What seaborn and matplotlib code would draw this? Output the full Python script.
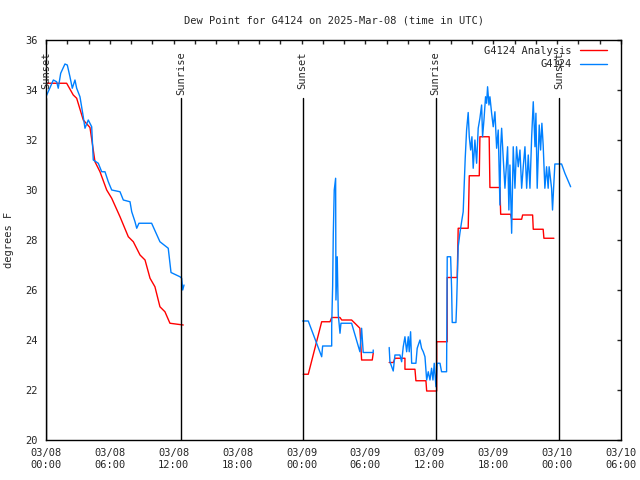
import pandas as pd
import seaborn as sns
import matplotlib.pyplot as plt
import matplotlib.dates as mdates
from matplotlib.lines import Line2D
import numpy as np

# hours since 2025-03-08 00:00 UTC, dew point in F
# analysis (red), one list per continuous segment
ana_h1 = [0.0, 1.94, 2.56, 2.88, 3.50, 4.13, 4.44, 4.60, 5.07, 5.70, 6.17, 6.95, 7.73, 8.20,
          8.83, 9.30, 9.77, 10.23, 10.70, 11.17, 11.64, 12.89]
ana_v1 = [34.27, 34.27, 33.8, 33.67, 32.8, 32.5, 31.6, 31.13, 30.73, 30.0, 29.67, 28.93, 28.13, 27.93,
          27.4, 27.2, 26.47, 26.13, 25.33, 25.13, 24.67, 24.6]
ana_h2 = [24.16, 24.63, 25.89, 26.67, 26.83, 27.61, 27.77, 28.70, 29.01, 29.48, 29.64, 30.64, 30.73]
ana_v2 = [22.63, 22.63, 24.73, 24.73, 24.9, 24.9, 24.8, 24.8, 24.67, 24.47, 23.2, 23.2, 23.47]
ana_h3 = [32.23, 32.62, 32.77, 33.71, 33.71, 34.65, 34.74, 35.68, 35.75, 36.69, 36.69, 37.68, 37.68,
          38.62, 38.71, 39.65, 39.75, 40.69, 40.75, 41.62, 41.69, 42.63, 42.70, 43.63, 43.73, 44.67,
          44.76, 45.70, 45.76, 46.69, 46.76, 47.70]
ana_v3 = [23.1, 23.1, 23.27, 23.27, 22.83, 22.83, 22.37, 22.37, 21.96, 21.96, 23.93, 23.93, 26.5,
          26.5, 28.47, 28.47, 30.57, 30.57, 32.13, 32.13, 30.1, 30.1, 29.03, 29.03, 28.83, 28.83,
          29.0, 29.0, 28.43, 28.43, 28.07, 28.07]

# station obs (blue)
obs_h1 = [0.0, 0.69, 1.0, 1.15, 1.38, 1.78, 2.0, 2.25, 2.47, 2.72, 2.88, 3.19, 3.50, 3.66, 3.97,
          4.29, 4.44, 4.91, 5.23, 5.54, 5.85, 6.17, 6.95, 7.26, 7.89, 8.05, 8.36, 8.52, 8.73, 9.92,
          10.70, 11.48, 11.74, 12.58, 12.74, 12.84, 12.96]
obs_v1 = [33.73, 34.4, 34.33, 34.07, 34.67, 35.04, 35.0, 34.53, 34.07, 34.4, 34.07, 33.73, 32.93,
          32.47, 32.8, 32.53, 31.2, 31.07, 30.73, 30.73, 30.33, 30.0, 29.93, 29.6, 29.53, 29.13,
          28.73, 28.47, 28.67, 28.67, 27.93, 27.67, 26.7, 26.53, 26.47, 26.0, 26.2]
obs_h2 = [24.10, 24.63, 25.89, 25.98, 26.83, 26.83, 26.92, 26.98, 27.07, 27.20, 27.23, 27.35, 27.45,
          27.61, 27.70, 28.70, 29.48, 29.64, 29.79, 30.73, 30.73]
obs_v2 = [24.76, 24.76, 23.33, 23.76, 23.76, 24.57, 26.16, 28.24, 30.0, 30.47, 25.6, 27.33, 25.0,
          24.27, 24.67, 24.67, 23.53, 24.47, 23.5, 23.5, 23.6]
obs_h3 = [32.23, 32.30, 32.61, 32.77, 33.24, 33.40, 33.55, 33.71, 33.87, 34.02, 34.11, 34.24, 34.34,
          34.74, 34.86, 35.12, 35.27, 35.43, 35.59, 35.75, 35.90, 36.06, 36.21, 36.34, 36.46, 36.62,
          36.74, 37.0, 37.15, 37.62, 37.68, 38.0, 38.09, 38.15, 38.50, 38.56, 38.71, 38.87, 39.03,
          39.18, 39.28, 39.37, 39.50, 39.65, 39.75, 39.88, 40.0, 40.12, 40.28, 40.44, 40.59, 40.75,
          40.91, 41.0, 41.13, 41.28, 41.38, 41.47, 41.60, 41.69, 41.85, 42.0, 42.16, 42.32, 42.47,
          42.63, 42.70, 42.79, 42.94, 43.10, 43.19, 43.35, 43.47, 43.57, 43.73, 43.88, 44.04, 44.19,
          44.35, 44.51, 44.67, 44.82, 44.98, 45.14, 45.29, 45.45, 45.61, 45.76, 45.92, 46.01, 46.13,
          46.32, 46.45, 46.57, 46.69, 46.85, 47.01, 47.16, 47.25, 47.48, 47.57, 47.67, 47.79, 48.42,
          48.73, 49.27]
obs_v3 = [23.7, 23.13, 22.76, 23.4, 23.4, 23.13, 23.73, 24.13, 23.53, 24.13, 23.53, 24.33, 23.07,
          23.07, 23.67, 24.0, 23.67, 23.53, 23.33, 22.4, 22.73, 22.4, 22.87, 22.4, 23.07, 22.13,
          23.07, 23.07, 22.73, 22.73, 27.33, 27.33, 26.07, 24.7, 24.7, 25.4, 27.73, 28.27, 28.73,
          29.13, 30.27, 31.27, 32.4, 33.1, 32.13, 31.6, 32.13, 30.87, 32.0, 31.07, 32.47, 32.87,
          33.4, 32.13, 32.8, 33.73, 33.47, 34.13, 33.4, 33.73, 33.07, 32.53, 33.13, 31.67, 32.4,
          29.4, 31.73, 32.47, 31.27, 30.07, 30.67, 31.73, 29.2, 31.0, 28.27, 31.73, 30.07, 31.73,
          30.93, 31.6, 30.07, 30.93, 31.73, 30.07, 31.4, 30.07, 32.13, 33.53, 31.73, 33.07, 30.07,
          32.6, 31.6, 32.67, 31.8, 30.07, 30.93, 30.07, 30.93, 30.07, 29.2, 30.07, 31.04, 31.04,
          30.67, 30.13]

# sun events (hours since start)
sun_h = [0.0, 12.68, 24.1, 36.6, 48.2]
sun_lbl = ["Sunset", "Sunrise", "Sunset", "Sunrise", "Sunset"]

t0 = pd.Timestamp("2025-03-08 00:00")


def to_df(hours_list, vals_list):
    parts = []
    for i, (h, v) in enumerate(zip(hours_list, vals_list)):
        parts.append(pd.DataFrame({"time": t0 + pd.to_timedelta(h, unit="h"),
                                   "dewpt": v, "seg": i}))
    return pd.concat(parts, ignore_index=True)


df_ana = to_df([ana_h1, ana_h2, ana_h3], [ana_v1, ana_v2, ana_v3])
df_obs = to_df([obs_h1, obs_h2, obs_h3], [obs_v1, obs_v2, obs_v3])

sns.set_style("white")
plt.rcParams["font.family"] = ["DejaVu Sans Mono"]
plt.rcParams["font.size"] = 7.5

fig = plt.figure(figsize=(6.4, 4.8), dpi=100)
ax = fig.add_axes([46 / 640, 40 / 480, 575 / 640, 400 / 480])

red = "#ff0000"
blue = "#0080ff"
sns.lineplot(data=df_ana, x="time", y="dewpt", units="seg", estimator=None, sort=False,
             color=red, lw=1.0, ax=ax, legend=False)
sns.lineplot(data=df_obs, x="time", y="dewpt", units="seg", estimator=None, sort=False,
             color=blue, lw=1.0, ax=ax, legend=False)

# sunrise / sunset markers
for h, lbl in zip(sun_h, sun_lbl):
    t = t0 + pd.Timedelta(hours=h)
    ax.axvline(t, ymin=0, ymax=0.855, color="black", lw=1.0)
    ax.text(t, 35.55, lbl, rotation=90, ha="center", va="top", fontsize=7.5)

ax.set_xlim(t0, t0 + pd.Timedelta(hours=54))
ax.set_ylim(20, 36)
ax.set_yticks(np.arange(20, 37, 2))
ax.xaxis.set_major_locator(mdates.HourLocator(byhour=[0, 6, 12, 18]))
ax.xaxis.set_minor_locator(mdates.HourLocator(interval=2))
ax.xaxis.set_major_formatter(mdates.DateFormatter("%m/%d\n%H:%M"))

ax.tick_params(which="both", direction="in", top=True, right=True, length=3, width=1,
               labelsize=7.5, pad=6)
for s in ax.spines.values():
    s.set_color("black")
    s.set_linewidth(1)

ax.set_xlabel("")
ax.set_ylabel("degrees F", fontsize=7.5, labelpad=8)
ax.set_title("Dew Point for G4124 on 2025-Mar-08 (time in UTC)", fontsize=7.5, pad=12)

handles = [Line2D([], [], color=red, lw=1.0), Line2D([], [], color=blue, lw=1.0)]
ax.legend(handles, ["G4124 Analysis", "G4124"], loc="upper right",
          bbox_to_anchor=(1 - 9 / 575, 1 - 1 / 400), frameon=False,
          markerfirst=False, fontsize=7.5, handlelength=2.6, borderaxespad=0.25,
          borderpad=0.2, labelspacing=0.35, handletextpad=0.8)

fig.savefig("out.png", dpi=100)
